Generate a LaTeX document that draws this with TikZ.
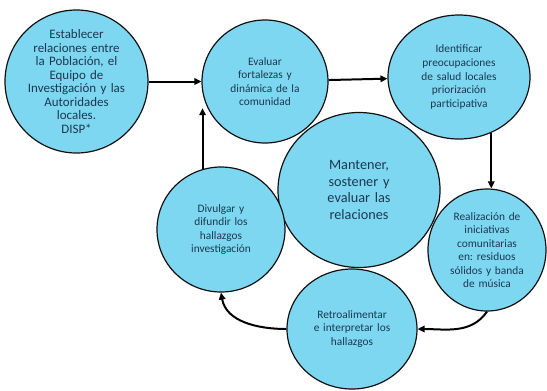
\documentclass[tikz,border=0pt]{standalone}
\usepackage{fontspec}
\setmainfont{Carlito}
\usepackage{tikz}
\usetikzlibrary{shapes.geometric,arrows.meta,positioning,calc}
\definecolor{cicloazul}{HTML}{7DD7F1}
\definecolor{ciclotexto}{HTML}{1C3850}
\definecolor{cicloborde}{HTML}{111111}
\frenchspacing

\begin{document}
\begin{tikzpicture}[
    x=1bp,y=-1bp,
    etapa/.style   = {ellipse, draw=cicloborde, fill=cicloazul, line width=1.2pt,
                      text=ciclotexto, align=center, inner sep=-16pt,
                      text width=96bp, font=\fontsize{11.4}{13.6}\selectfont},
    inicio/.style  = {etapa, text width=112bp, font=\fontsize{13}{13.6}\selectfont},
    central/.style = {etapa, text width=110bp, font=\fontsize{14.3}{16.9}\selectfont},
    flecha/.style  = {-{Triangle[length=7pt,width=6.5pt]}, line width=2pt},
  ]
  \useasboundingbox (0,0) rectangle (547,390);

  % ── Centro del ciclo ────────────────────────────────────────────────────
  \node[central, minimum width=162bp, minimum height=155bp] (mant) at (359,190)
       {Mantener,\\sostener y\\evaluar las\\relaciones};

  % ── Etapas ──────────────────────────────────────────────────────────────
  \node[inicio, minimum width=143bp, minimum height=143bp] (est) at (76.5,81.5)
       {Establecer\\relaciones entre\\la Población, el\\Equipo de\\Investigación y las\\Autoridades\\locales.\\DISP*};
  \node[etapa, minimum width=126bp, minimum height=123bp] (eva) at (265,81.5)
       {Evaluar\\fortalezas y\\dinámica de la\\comunidad};
  \node[etapa, minimum width=142bp, minimum height=124bp] (ide) at (459,77)
       {Identificar\\preocupaciones\\de salud locales\\priorización\\participativa};
  \node[etapa, minimum width=118bp, minimum height=122bp] (rea) at (487,250)
       {Realización de\\iniciativas\\comunitarias\\en: residuos\\sólidos y banda\\de música};
  \node[etapa, minimum width=130bp, minimum height=120bp] (ret) at (352,329)
       {Retroalimentar\\e interpretar los\\hallazgos};
  \node[etapa, minimum width=128bp, minimum height=125bp] (div) at (221,229.5)
       {Divulgar y\\difundir los\\hallazgos\\investigación};

  % ── Flechas del ciclo ───────────────────────────────────────────────────
  \draw[flecha] (est) -- (eva);
  \draw[flecha] (eva) -- (ide);
  \draw[flecha] (ide.-60) -- (ide.-60 |- rea.north);
  \draw[flecha] (rea.south) to[out=-125,in=0] (ret.east);
  \draw[flecha] (ret.west) to[out=180,in=-80] (div.south);
  \draw[flecha] (div.107) -- (div.107 |- eva.205);

\end{tikzpicture}
\end{document}
